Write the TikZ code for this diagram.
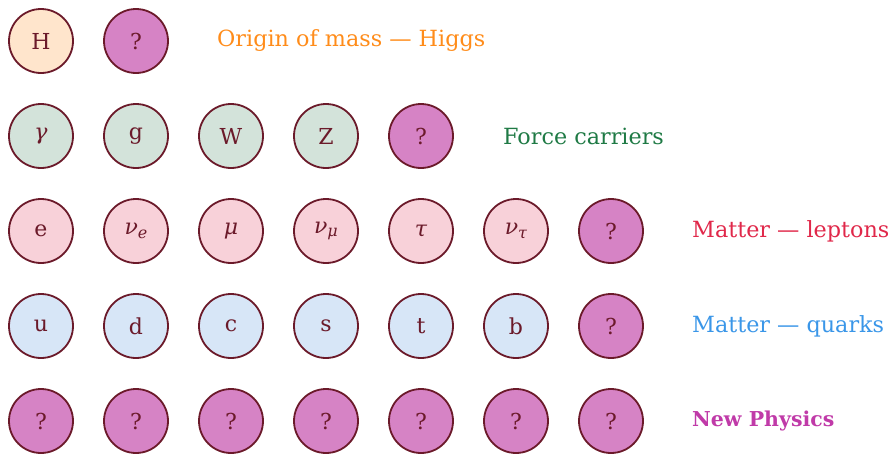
\documentclass[tikz,border=0pt]{standalone}
\usepackage{fontspec}
\setmainfont{DejaVu Serif}
\begin{document}
\begin{tikzpicture}[x=1pt,y=-1pt,
  ink/.style={draw=edge,line width=1.8pt,circle,minimum size=64pt,inner sep=0pt,text=edge,font=\fontsize{22}{26}\selectfont},
  higgs/.style={ink,fill=higgsfill},
  unk/.style={ink,fill=unkfill},
  force/.style={ink,fill=forcefill},
  lep/.style={ink,fill=lepfill},
  quark/.style={ink,fill=quarkfill},
  lab/.style={anchor=west,font=\fontsize{22.3}{26}\selectfont,inner sep=0pt}]
\definecolor{edge}{HTML}{6B1A2A}
\definecolor{higgsfill}{HTML}{FFE5CC}
\definecolor{unkfill}{HTML}{D683C5}
\definecolor{forcefill}{HTML}{D3E3DA}
\definecolor{lepfill}{HTML}{F8D1D9}
\definecolor{quarkfill}{HTML}{D7E6F7}
\definecolor{orangelab}{HTML}{FF8C1A}
\definecolor{greenlab}{HTML}{1F7A45}
\definecolor{redlab}{HTML}{E0284A}
\definecolor{bluelab}{HTML}{3A96E8}
\definecolor{maglab}{HTML}{C03AA8}
\useasboundingbox (0,0) rectangle (893,458);
% row 1
\node[higgs] (h) at (41,41) {H};
\node[unk] (h2) at (136,41) {?};
\node[lab,text=orangelab] (l1) at (217,41) {Origin of mass — Higgs};
% row 2
\node[force] (g1) at (41,136) {\textit{γ}};
\node[force] (g2) at (136,136) {g};
\node[force] (g3) at (231,136) {W};
\node[force] (g4) at (326,136) {Z};
\node[unk] (g5) at (421,136) {?};
\node[lab,text=greenlab] (l2) at (503,136) {Force carriers};
% row 3
\node[lep] (e1) at (41,231) {e};
\node[lep] (e2) at (136,231) {\textit{ν}\raisebox{-0.3ex}{\fontsize{16}{18}\selectfont\textit{e}}};
\node[lep] (e3) at (231,231) {\textit{μ}};
\node[lep] (e4) at (326,231) {\textit{ν}\raisebox{-0.3ex}{\fontsize{16}{18}\selectfont\textit{μ}}};
\node[lep] (e5) at (421,231) {\textit{τ}};
\node[lep] (e6) at (516,231) {\textit{ν}\raisebox{-0.3ex}{\fontsize{16}{18}\selectfont\textit{τ}}};
\node[unk] (e7) at (611,231) {?};
\node[lab,text=redlab] (l3) at (692,231) {Matter — leptons};
% row 4
\node[quark] (q1) at (41,326) {u};
\node[quark] (q2) at (136,326) {d};
\node[quark] (q3) at (231,326) {c};
\node[quark] (q4) at (326,326) {s};
\node[quark] (q5) at (421,326) {t};
\node[quark] (q6) at (516,326) {b};
\node[unk] (q7) at (611,326) {?};
\node[lab,text=bluelab] (l4) at (692,326) {Matter — quarks};
% row 5
\node[unk] (n1) at (41,421) {?};
\node[unk] (n2) at (136,421) {?};
\node[unk] (n3) at (231,421) {?};
\node[unk] (n4) at (326,421) {?};
\node[unk] (n5) at (421,421) {?};
\node[unk] (n6) at (516,421) {?};
\node[unk] (n7) at (611,421) {?};
\node[lab,text=maglab,font=\fontsize{20.5}{24}\selectfont\bfseries] (l5) at (692,421) {New Physics};
\end{tikzpicture}
\end{document}
